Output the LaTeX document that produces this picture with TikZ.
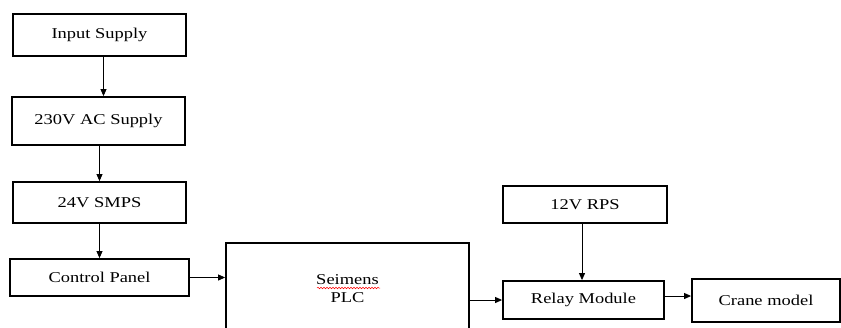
\documentclass[tikz,border=0pt]{standalone}
\usepackage{fontspec}
\setmainfont{Liberation Serif}[FakeStretch=1.23]
\usetikzlibrary{arrows.meta,decorations.pathmorphing}
\begin{document}
\begin{tikzpicture}[x=1pt,y=-1pt,
  blk/.style={draw=black,line width=1.8pt,inner sep=0pt,font=\fontsize{15}{18}\selectfont},
  arr/.style={line width=0.9pt,-{Triangle[length=7pt,width=6pt]}}]
\useasboundingbox (0,0) rectangle (841,327);
\clip (0,0) rectangle (841,327);
\node[blk,minimum width=173,minimum height=42] (in) at (99.5,35) {Input Supply};
\node[blk,minimum width=173,minimum height=48] (ac) at (98.5,121) {230V AC Supply};
\node[blk,minimum width=173,minimum height=41] (smps) at (99.5,202.5) {24V SMPS};
\node[blk,minimum width=179,minimum height=37] (cp) at (99.5,277.5) {Control Panel};
\node[blk,minimum width=243,minimum height=92,align=center] (plc) at (347.5,289) {Seimens\\PLC};
\node[blk,minimum width=164,minimum height=37] (rps) at (585,204.5) {12V RPS};
\node[blk,minimum width=161,minimum height=38] (relay) at (583.5,300) {Relay Module};
\node[blk,minimum width=148,minimum height=43] (crane) at (766,300.5) {Crane model};
\draw[red,line width=0.5pt,decorate,decoration={snake,amplitude=0.8pt,segment length=3pt}]
  (317,288) -- (380,288);
\draw[arr] ([xshift=4]in.south) -- ([xshift=4]in.south |- ac.north);
\draw[arr] ([xshift=1]ac.south) -- ([xshift=1]ac.south |- smps.north);
\draw[arr] (smps.south) -- (smps.south |- cp.north);
\draw[arr] (cp.east) -- (cp.east -| plc.west);
\draw[arr] (plc.east |- relay.west) -- (relay.west);
\draw[arr] ([xshift=-3]rps.south) -- ([xshift=-3]rps.south |- relay.north);
\draw[arr] ([yshift=4]relay.east) -- ([yshift=4]relay.east -| crane.west);
\end{tikzpicture}
\end{document}
